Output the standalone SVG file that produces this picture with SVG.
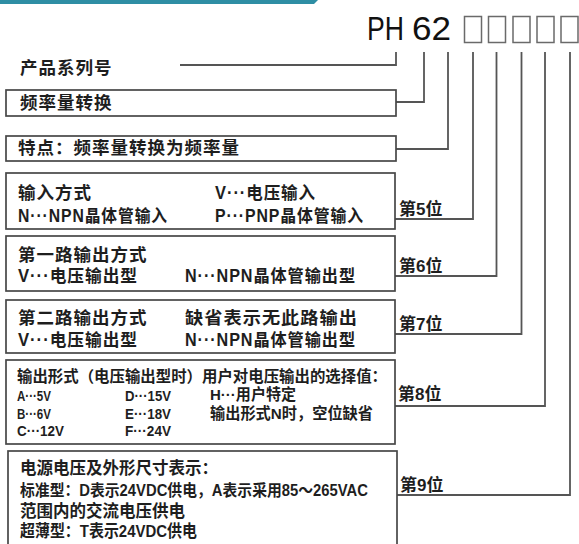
<svg xmlns="http://www.w3.org/2000/svg" width="579" height="544" viewBox="0 0 579 544">
<style>
.box{fill:#fff;stroke:#474747;stroke-width:1.7}
.cn{fill:none;stroke:#555;stroke-width:1.8}
.ph{fill:none;stroke:#6a6a6a;stroke-width:1.5}
text{font-family:"Liberation Sans","Noto Sans CJK SC",sans-serif;fill:#1e1e1e}
.t1{font-size:17.5px;font-weight:700;letter-spacing:1px}
.t6{font-size:15.5px;font-weight:700}
.t7{font-size:16.5px;font-weight:600}
.lb{font-size:17px;font-weight:700}
.code{font-family:"Liberation Sans","Noto Sans",sans-serif;font-size:34px;fill:#111;font-weight:400}
</style>
<rect x="0" y="0" width="579" height="544" fill="#fff"/>
<polygon points="0,0 318,0 314,4 0,4" fill="#2e8ea4"/>
<g id="code">
<text class="code" x="367" y="40" textLength="37" lengthAdjust="spacingAndGlyphs">PH</text>
<text class="code" x="412" y="40" textLength="39" lengthAdjust="spacingAndGlyphs">62</text>
<rect class="ph" x="464.5" y="16.5" width="17" height="26"/>
<rect class="ph" x="488.5" y="16.5" width="17" height="26"/>
<rect class="ph" x="513" y="16.5" width="17" height="26"/>
<rect class="ph" x="537" y="16.5" width="17" height="26"/>
<rect class="ph" x="561" y="16.5" width="17" height="26"/>
</g>
<g id="connectors">
<path class="cn" d="M180,65 H396 V52"/>
<path class="cn" d="M396,102 H424 V52"/>
<path class="cn" d="M396,149 H448 V52"/>
<path class="cn" d="M395,219 H473 V52"/>
<path class="cn" d="M395,276 H496.5 V52"/>
<path class="cn" d="M395,334 H521.5 V52"/>
<path class="cn" d="M395,406 H545 V52"/>
<path class="cn" d="M397,495 H570 V52"/>
</g>
<g id="labels">
<text class="lb" x="399" y="215">第5位</text>
<text class="lb" x="399" y="272">第6位</text>
<text class="lb" x="399" y="330">第7位</text>
<text class="lb" x="398" y="400">第8位</text>
<text class="lb" x="400" y="491">第9位</text>
</g>
<g id="series">
<text class="t1" x="20" y="74">产品系列号</text>
</g>
<g id="freq">
<rect class="box" x="6" y="90" width="390" height="26"/>
<text class="t1" x="20" y="109">频率量转换</text>
</g>
<g id="feature">
<rect class="box" x="6" y="136" width="390" height="25"/>
<text class="t1" x="18" y="154">特点：频率量转换为频率量</text>
</g>
<g id="input">
<rect class="box" x="6" y="173" width="389" height="56"/>
<text class="t1"><tspan x="18" y="199">输入方式</tspan><tspan x="215" y="199" textLength="101" lengthAdjust="spacingAndGlyphs">V···电压输入</tspan><tspan x="18" y="222" textLength="150" lengthAdjust="spacingAndGlyphs">N···NPN晶体管输入</tspan><tspan x="215" y="222" textLength="149" lengthAdjust="spacingAndGlyphs">P···PNP晶体管输入</tspan></text>
</g>
<g id="out1">
<rect class="box" x="6" y="236" width="389" height="55"/>
<text class="t1"><tspan x="18" y="261">第一路输出方式</tspan><tspan x="18" y="282" textLength="120" lengthAdjust="spacingAndGlyphs">V···电压输出型</tspan><tspan x="185" y="282" textLength="171" lengthAdjust="spacingAndGlyphs">N···NPN晶体管输出型</tspan></text>
</g>
<g id="out2">
<rect class="box" x="6" y="300" width="389" height="53"/>
<text class="t1"><tspan x="18" y="324">第二路输出方式</tspan><tspan x="185" y="324" textLength="173" lengthAdjust="spacingAndGlyphs">缺省表示无此路输出</tspan><tspan x="18" y="346" textLength="120" lengthAdjust="spacingAndGlyphs">V···电压输出型</tspan><tspan x="185" y="346" textLength="171" lengthAdjust="spacingAndGlyphs">N···NPN晶体管输出型</tspan></text>
</g>
<g id="outform">
<rect class="box" x="6" y="360" width="389" height="84"/>
<text class="t6"><tspan x="17" y="382" textLength="370" lengthAdjust="spacingAndGlyphs">输出形式（电压输出型时）用户对电压输出的选择值：</tspan><tspan x="17" y="401" textLength="34" lengthAdjust="spacingAndGlyphs">A···5V</tspan><tspan x="125" y="401" textLength="46" lengthAdjust="spacingAndGlyphs">D···15V</tspan><tspan x="210" y="400" textLength="86" lengthAdjust="spacingAndGlyphs">H···用户特定</tspan><tspan x="17" y="419" textLength="34" lengthAdjust="spacingAndGlyphs">B···6V</tspan><tspan x="125" y="419" textLength="46" lengthAdjust="spacingAndGlyphs">E···18V</tspan><tspan x="210" y="419" textLength="163" lengthAdjust="spacingAndGlyphs">输出形式N时，空位缺省</tspan><tspan x="17" y="436" textLength="47" lengthAdjust="spacingAndGlyphs">C···12V</tspan><tspan x="125" y="436" textLength="46" lengthAdjust="spacingAndGlyphs">F···24V</tspan></text>
</g>
<g id="power">
<rect class="box" x="8" y="451" width="389" height="100"/>
<text class="t7"><tspan x="20" y="474">电源电压及外形尺寸表示：</tspan><tspan x="20" y="496" font-size="15.8" textLength="348" lengthAdjust="spacingAndGlyphs">标准型：D表示24VDC供电，A表示采用85～265VAC</tspan><tspan x="20" y="517">范围内的交流电压供电</tspan><tspan x="20" y="537" textLength="177" lengthAdjust="spacingAndGlyphs">超薄型：T表示24VDC供电</tspan></text>
</g>
</svg>
